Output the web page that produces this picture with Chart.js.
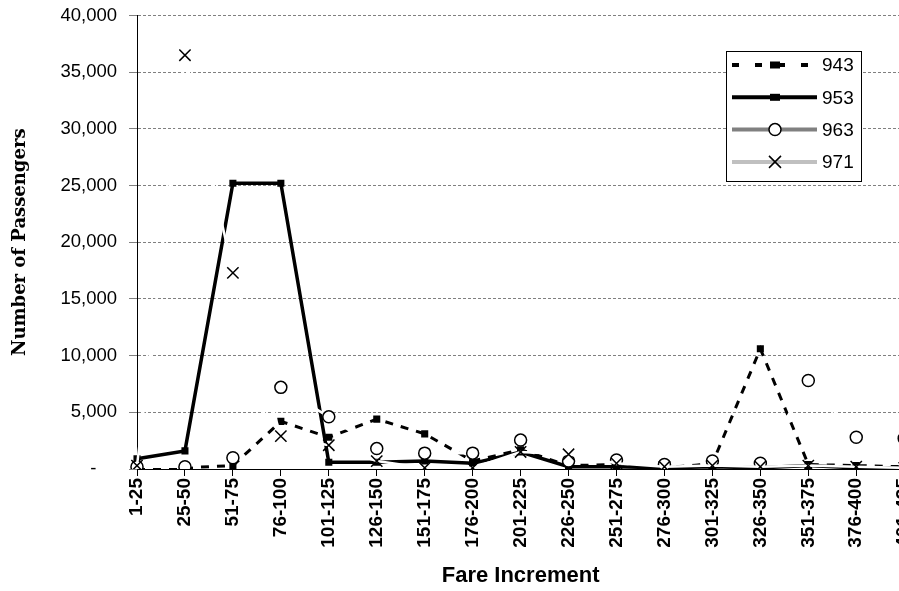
<!DOCTYPE html>
<html>
<head>
<meta charset="utf-8">
<script src="https://cdn.jsdelivr.net/npm/chart.js@4.4.0/dist/chart.umd.min.js"></script>
<style>
html,body{margin:0;padding:0;background:#fff;overflow:hidden;}
#wrap{width:899px;height:591px;overflow:hidden;}
</style>
</head>
<body>
<div id="wrap"><canvas id="fares" width="929" height="591"></canvas></div>
<script>
const fareBands = ["1-25","25-50","51-75","76-100","101-125","126-150","151-175","176-200","201-225",
    "226-250","251-275","276-300","301-325","326-350","351-375","376-400","401-425"];
const flight943 = [100,100,300,4200,2800,4400,3100,700,1700,300,400,100,500,10600,400,300,200];
const flight953 = [900,1600,25200,25200,600,600,700,500,1500,200,200,100,200,100,300,100,100];
const flight963 = [200,200,1000,7200,4600,1800,1400,1400,2550,700,800,400,700,500,7800,2800,2700];
const flight971 = [300,36500,17300,2900,2100,700,100,100,1500,1300,500,200,300,200,300,200,100];
const seriesNames = ["943","953","963","971"];
const yTicks = [0,5000,10000,15000,20000,25000,30000,35000,40000];

// legend sample colours (plot lines of 963/971 are white in the original)
const legendColors = ["#000","#000","#808080","#c0c0c0"];

const legendBox = {
    id:"legendBox",
    afterDraw(chart){
        const ctx = chart.ctx;
        ctx.save();
        ctx.fillStyle = "#fff";
        ctx.fillRect(726,51,135,130);
        ctx.strokeStyle = "#000";
        ctx.lineWidth = 1;
        ctx.strokeRect(726.5,51.5,135,130);
        seriesNames.forEach((name,i)=>{
            const y = 65 + i*32.3;
            ctx.strokeStyle = legendColors[i];
            ctx.lineWidth = 4;
            ctx.setLineDash(i===0 ? [7,16] : []);
            ctx.beginPath();
            ctx.moveTo(732,y);
            ctx.lineTo(817,y);
            ctx.stroke();
            ctx.setLineDash([]);
            const mx = 775;
            if(i<2){
                ctx.fillStyle = "#000";
                ctx.fillRect(mx-5,y-3.5,10,7);
            }else if(i===2){
                ctx.fillStyle = "#fff";
                ctx.strokeStyle = "#000";
                ctx.lineWidth = 1.5;
                ctx.beginPath();
                ctx.arc(mx,y,6,0,Math.PI*2);
                ctx.fill();
                ctx.stroke();
            }else{
                ctx.strokeStyle = "#000";
                ctx.lineWidth = 1.5;
                ctx.beginPath();
                ctx.moveTo(mx-6,y-6); ctx.lineTo(mx+6,y+6);
                ctx.moveTo(mx+6,y-6); ctx.lineTo(mx-6,y+6);
                ctx.stroke();
            }
            ctx.fillStyle = "#000";
            ctx.font = "19px 'Liberation Sans', Arial, sans-serif";
            ctx.textBaseline = "middle";
            ctx.fillText(name,822,y+1);
        });
        ctx.restore();
    }
};

new Chart(document.getElementById("fares"),{
    type:"line",
    data:{
        labels:fareBands,
        datasets:[
            {label:seriesNames[0],data:flight943,order:4,borderColor:"#000",borderWidth:3,borderDash:[8,8],
             pointStyle:"rect",pointRadius:5,pointBackgroundColor:"#000",pointBorderColor:"#000",pointBorderWidth:0},
            {label:seriesNames[1],data:flight953,order:3,borderColor:"#000",borderWidth:3.5,
             pointStyle:"rect",pointRadius:5,pointBackgroundColor:"#000",pointBorderColor:"#000",pointBorderWidth:0},
            {label:seriesNames[2],data:flight963,order:2,borderColor:"#fff",borderWidth:2.5,
             pointStyle:"circle",pointRadius:6,pointBackgroundColor:"#fff",pointBorderColor:"#000",pointBorderWidth:1.5},
            {label:seriesNames[3],data:flight971,order:1,borderColor:"#fff",borderWidth:2.5,
             pointStyle:"crossRot",pointRadius:8,pointBackgroundColor:"#000",pointBorderColor:"#000",pointBorderWidth:1.5},
        ],
    },
    options:{
        responsive:false,
        animation:false,
        devicePixelRatio:1,
        layout:{padding:{top:8,right:0,left:0,bottom:0}},
        plugins:{
            legend:{display:false},
            tooltip:{enabled:false},
        },
        scales:{
            x:{
                offset:false,
                border:{display:true,color:"#000",width:1},
                grid:{drawOnChartArea:false,drawTicks:true,tickLength:7,color:"#000"},
                ticks:{autoSkip:false,maxRotation:90,minRotation:90,padding:2,color:"#000",
                       font:{family:"'Liberation Sans',Arial,sans-serif",weight:"bold",size:19}},
                title:{display:true,text:"Fare Increment",color:"#000",padding:{top:0,bottom:2},
                       font:{family:"'Liberation Sans',Arial,sans-serif",weight:"bold",size:22}},
                afterFit(scale){ scale.height = 122; },
            },
            y:{
                min:0,max:40000,
                border:{display:true,color:"#000",width:1,dash:[3,2]},
                grid:{color:"#808080",tickLength:8,tickColor:"#808080",tickBorderDash:[]},
                afterBuildTicks(scale){ scale.ticks = yTicks.map(v=>({value:v})); },
                ticks:{padding:12,color:"#000",
                       font:{family:"'Liberation Sans',Arial,sans-serif",size:18.5,lineHeight:0.38},
                       callback:(v)=> v===0 ? "-    " : v.toLocaleString("en-US")},
                title:{display:true,text:"Number of Passengers",color:"#000",padding:{top:10,bottom:0},
                       font:{family:"'DejaVu Serif',serif",weight:"bold",size:18}},
                afterFit(scale){ scale.width = 137; },
            },
        },
        elements:{line:{tension:0},point:{hitRadius:0}},
    },
    plugins:[legendBox],
});
</script>
</body>
</html>
